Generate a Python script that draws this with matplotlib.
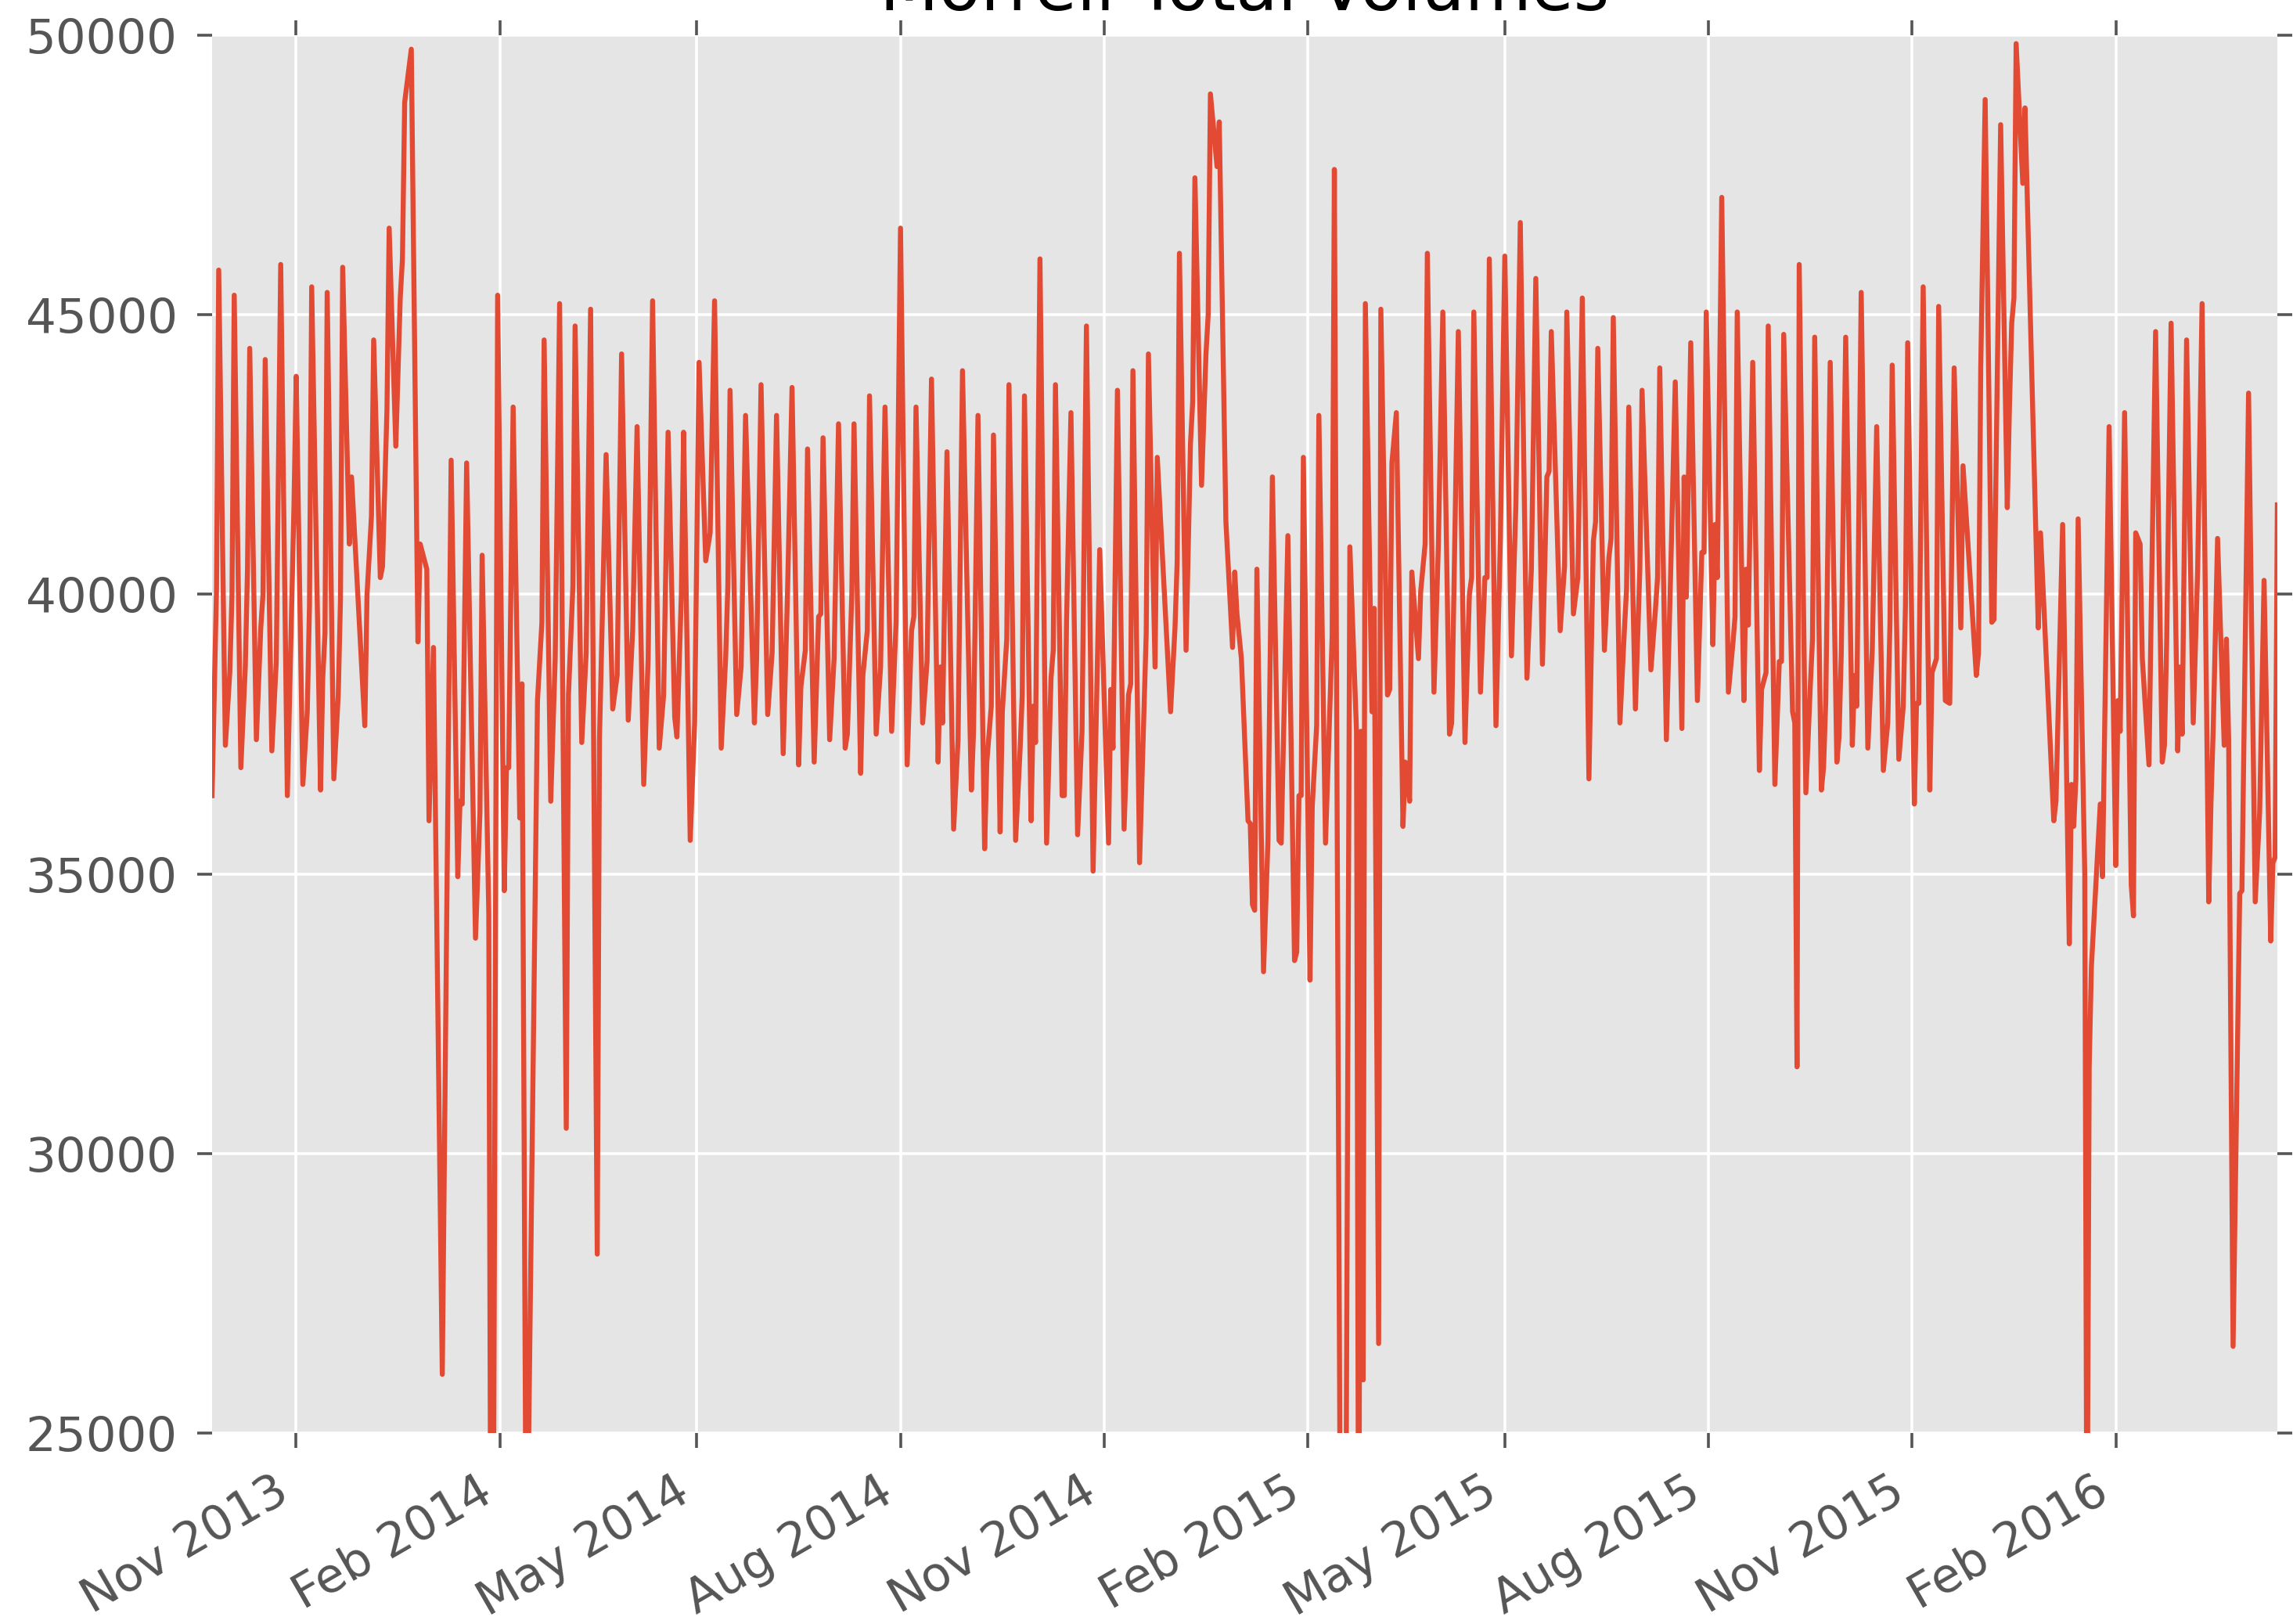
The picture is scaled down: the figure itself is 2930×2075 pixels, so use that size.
import matplotlib
matplotlib.use("Agg")
import matplotlib.pyplot as plt
import matplotlib.dates as mdates
import numpy as np
import pandas as pd

title = "Morrell Total Volumes"
y_ticks = [25000, 30000, 35000, 40000, 45000, 50000]

dates = [
    "2013-09-24", "2013-09-26", "2013-09-27", "2013-09-30", "2013-10-02", "2013-10-03", "2013-10-04",
    "2013-10-07", "2013-10-09", "2013-10-10", "2013-10-11", "2013-10-14", "2013-10-16", "2013-10-17",
    "2013-10-18", "2013-10-21", "2013-10-23", "2013-10-25", "2013-10-28", "2013-10-31", "2013-11-01",
    "2013-11-04", "2013-11-06", "2013-11-07", "2013-11-08", "2013-11-12", "2013-11-13", "2013-11-14",
    "2013-11-15", "2013-11-18", "2013-11-20", "2013-11-21", "2013-11-22", "2013-11-25", "2013-11-26",
    "2013-12-02", "2013-12-03", "2013-12-05", "2013-12-06", "2013-12-09", "2013-12-10", "2013-12-12",
    "2013-12-13", "2013-12-16", "2013-12-18", "2013-12-19", "2013-12-20", "2013-12-23", "2013-12-26",
    "2013-12-27", "2013-12-30", "2013-12-31", "2014-01-02", "2014-01-06", "2014-01-10", "2014-01-13",
    "2014-01-14", "2014-01-15", "2014-01-17", "2014-01-21", "2014-01-23", "2014-01-24", "2014-01-27",
    "2014-01-28", "2014-01-29", "2014-01-31", "2014-02-03", "2014-02-04", "2014-02-05", "2014-02-07",
    "2014-02-10", "2014-02-11", "2014-02-13", "2014-02-18", "2014-02-20", "2014-02-21", "2014-02-24",
    "2014-02-26", "2014-02-28", "2014-03-03", "2014-03-04", "2014-03-06", "2014-03-07", "2014-03-10",
    "2014-03-12", "2014-03-14", "2014-03-17", "2014-03-18", "2014-03-21", "2014-03-24", "2014-03-26",
    "2014-03-28", "2014-03-31", "2014-04-02", "2014-04-04", "2014-04-07", "2014-04-09", "2014-04-11",
    "2014-04-14", "2014-04-16", "2014-04-18", "2014-04-21", "2014-04-22", "2014-04-24", "2014-04-25",
    "2014-04-28", "2014-04-30", "2014-05-02", "2014-05-05", "2014-05-07", "2014-05-09", "2014-05-12",
    "2014-05-14", "2014-05-15", "2014-05-16", "2014-05-19", "2014-05-21", "2014-05-23", "2014-05-27",
    "2014-05-28", "2014-05-30", "2014-06-02", "2014-06-04", "2014-06-06", "2014-06-09", "2014-06-11",
    "2014-06-13", "2014-06-16", "2014-06-17", "2014-06-19", "2014-06-20", "2014-06-23", "2014-06-25",
    "2014-06-26", "2014-06-27", "2014-06-30", "2014-07-02", "2014-07-04", "2014-07-07", "2014-07-08",
    "2014-07-10", "2014-07-11", "2014-07-14", "2014-07-15", "2014-07-17", "2014-07-18", "2014-07-21",
    "2014-07-23", "2014-07-25", "2014-07-28", "2014-07-30", "2014-08-01", "2014-08-04", "2014-08-06",
    "2014-08-07", "2014-08-08", "2014-08-11", "2014-08-13", "2014-08-15", "2014-08-18", "2014-08-19",
    "2014-08-20", "2014-08-22", "2014-08-25", "2014-08-27", "2014-08-29", "2014-09-02", "2014-09-03",
    "2014-09-05", "2014-09-08", "2014-09-09", "2014-09-11", "2014-09-12", "2014-09-15", "2014-09-16",
    "2014-09-18", "2014-09-19", "2014-09-22", "2014-09-24", "2014-09-25", "2014-09-26", "2014-09-29",
    "2014-09-30", "2014-10-01", "2014-10-03", "2014-10-06", "2014-10-08", "2014-10-09", "2014-10-10",
    "2014-10-13", "2014-10-14", "2014-10-15", "2014-10-17", "2014-10-20", "2014-10-22", "2014-10-24",
    "2014-10-27", "2014-10-30", "2014-11-03", "2014-11-04", "2014-11-05", "2014-11-07", "2014-11-10",
    "2014-11-12", "2014-11-13", "2014-11-14", "2014-11-17", "2014-11-20", "2014-11-21", "2014-11-24",
    "2014-11-25", "2014-12-01", "2014-12-03", "2014-12-04", "2014-12-05", "2014-12-08", "2014-12-10",
    "2014-12-11", "2014-12-12", "2014-12-15", "2014-12-17", "2014-12-18", "2014-12-19", "2014-12-22",
    "2014-12-23", "2014-12-26", "2014-12-29", "2014-12-30", "2014-12-31", "2015-01-02", "2015-01-05",
    "2015-01-06", "2015-01-07", "2015-01-08", "2015-01-09", "2015-01-12", "2015-01-14", "2015-01-16",
    "2015-01-19", "2015-01-20", "2015-01-23", "2015-01-26", "2015-01-27", "2015-01-28", "2015-01-29",
    "2015-01-30", "2015-02-02", "2015-02-03", "2015-02-05", "2015-02-06", "2015-02-09", "2015-02-11",
    "2015-02-12", "2015-02-13", "2015-02-16", "2015-02-18", "2015-02-20", "2015-02-23", "2015-02-24",
    "2015-02-25", "2015-02-26", "2015-02-27", "2015-03-02", "2015-03-03", "2015-03-05", "2015-03-06",
    "2015-03-09", "2015-03-10", "2015-03-11", "2015-03-13", "2015-03-16", "2015-03-17", "2015-03-19",
    "2015-03-20", "2015-03-23", "2015-03-24", "2015-03-26", "2015-03-27", "2015-03-30", "2015-04-01",
    "2015-04-03", "2015-04-06", "2015-04-07", "2015-04-10", "2015-04-13", "2015-04-15", "2015-04-16",
    "2015-04-17", "2015-04-20", "2015-04-22", "2015-04-23", "2015-04-24", "2015-04-27", "2015-04-29",
    "2015-05-01", "2015-05-04", "2015-05-06", "2015-05-08", "2015-05-11", "2015-05-13", "2015-05-15",
    "2015-05-18", "2015-05-20", "2015-05-21", "2015-05-22", "2015-05-26", "2015-05-28", "2015-05-29",
    "2015-06-01", "2015-06-03", "2015-06-05", "2015-06-08", "2015-06-10", "2015-06-11", "2015-06-12",
    "2015-06-15", "2015-06-17", "2015-06-18", "2015-06-19", "2015-06-22", "2015-06-24", "2015-06-25",
    "2015-06-26", "2015-06-29", "2015-07-01", "2015-07-02", "2015-07-06", "2015-07-08", "2015-07-09",
    "2015-07-10", "2015-07-13", "2015-07-15", "2015-07-17", "2015-07-20", "2015-07-21", "2015-07-22",
    "2015-07-24", "2015-07-27", "2015-07-29", "2015-07-30", "2015-07-31", "2015-08-03", "2015-08-04",
    "2015-08-05", "2015-08-07", "2015-08-10", "2015-08-12", "2015-08-13", "2015-08-14", "2015-08-17",
    "2015-08-18", "2015-08-19", "2015-08-21", "2015-08-24", "2015-08-25", "2015-08-27", "2015-08-28",
    "2015-08-31", "2015-09-02", "2015-09-03", "2015-09-04", "2015-09-08", "2015-09-09", "2015-09-10",
    "2015-09-11", "2015-09-14", "2015-09-16", "2015-09-17", "2015-09-18", "2015-09-21", "2015-09-22",
    "2015-09-23", "2015-09-25", "2015-09-28", "2015-09-29", "2015-09-30", "2015-10-02", "2015-10-05",
    "2015-10-06", "2015-10-07", "2015-10-09", "2015-10-12", "2015-10-14", "2015-10-16", "2015-10-19",
    "2015-10-21", "2015-10-22", "2015-10-23", "2015-10-26", "2015-10-28", "2015-10-29", "2015-10-30",
    "2015-11-02", "2015-11-03", "2015-11-04", "2015-11-06", "2015-11-09", "2015-11-10", "2015-11-12",
    "2015-11-13", "2015-11-16", "2015-11-18", "2015-11-20", "2015-11-23", "2015-11-24", "2015-11-30",
    "2015-12-01", "2015-12-02", "2015-12-04", "2015-12-07", "2015-12-08", "2015-12-11", "2015-12-14",
    "2015-12-15", "2015-12-16", "2015-12-17", "2015-12-18", "2015-12-21", "2015-12-22", "2015-12-28",
    "2015-12-29", "2016-01-04", "2016-01-05", "2016-01-08", "2016-01-11", "2016-01-12", "2016-01-13",
    "2016-01-14", "2016-01-15", "2016-01-18", "2016-01-19", "2016-01-20", "2016-01-21", "2016-01-25",
    "2016-01-26", "2016-01-29", "2016-02-01", "2016-02-02", "2016-02-03", "2016-02-05", "2016-02-08",
    "2016-02-09", "2016-02-10", "2016-02-12", "2016-02-13", "2016-02-16", "2016-02-17", "2016-02-19",
    "2016-02-22", "2016-02-23", "2016-02-24", "2016-02-26", "2016-02-29", "2016-03-01", "2016-03-02",
    "2016-03-04", "2016-03-07", "2016-03-09", "2016-03-11", "2016-03-14", "2016-03-15", "2016-03-16",
    "2016-03-18", "2016-03-21", "2016-03-22", "2016-03-23", "2016-03-25", "2016-03-28", "2016-03-29",
    "2016-04-01", "2016-04-04", "2016-04-05", "2016-04-06", "2016-04-08", "2016-04-11", "2016-04-12",
    "2016-04-13", "2016-04-14",
]

volumes = [
    36400, 40100, 45800, 37300, 38600, 40000, 45350,
    36900, 38700, 40450, 44400, 37400, 39400, 40000,
    44200, 37200, 38800, 45900, 36400, 41600, 43900,
    36600, 37900, 39800, 45500, 36500, 38500, 39300,
    45400, 36700, 38200, 39900, 45850, 40900, 42100,
    37650, 40000, 41400, 44550, 40300, 40500, 43300,
    46550, 42650, 45300, 46000, 48800, 49750, 39150,
    40900, 40450, 35950, 39050, 26050, 42400, 34950,
    36300, 36250, 42350, 33850, 36100, 40700, 34300,
    21000, 22000, 45350, 34700, 36900, 36900, 43350,
    36000, 38400, 21500, 38100, 39500, 44550, 36300,
    38850, 45200, 30450, 38200, 40150, 44800, 37350,
    38950, 45100, 28200, 37400, 42500, 37950, 38550,
    44300, 37750, 39350, 43000, 36600, 38850, 45250,
    37250, 38200, 42900, 37800, 37450, 40000, 42900,
    35600, 37700, 44150, 40600, 41100, 45250, 37250,
    38850, 40150, 43650, 37850, 38700, 43200, 37700,
    38850, 43750, 37850, 38950, 43200, 37150, 40100,
    43700, 36950, 38350, 39000, 42600, 37000, 39600,
    39650, 42800, 37400, 38850, 43050, 37250, 37500,
    40000, 43050, 36800, 38550, 39350, 43550, 37500,
    38700, 43350, 37550, 39500, 46550, 36950, 39350,
    39600, 43350, 37700, 38800, 43850, 37000, 38700,
    37700, 42550, 35800, 37400, 44000, 36500, 37550,
    43200, 35450, 37000, 38000, 42850, 35750, 37900,
    39200, 43750, 35600, 37200, 38200, 43550, 35950,
    38000, 37350, 46000, 35550, 38500, 39000, 43750,
    36400, 36400, 39500, 43250, 35700, 37550, 44800,
    35050, 40800, 35550, 38300, 37250, 43650, 35800,
    38200, 38400, 44000, 35200, 39300, 44300, 38700,
    42450, 37900, 39400, 40600, 46100, 39000, 42700,
    43450, 47450, 41950, 44300, 45000, 48950, 47650,
    48450, 41300, 39050, 40400, 39650, 38850, 35950,
    35900, 34450, 34350, 40450, 33250, 35600, 42100,
    35600, 35550, 41050, 33450, 33600, 36400, 36400,
    42450, 33100, 36200, 37650, 43200, 35550, 38000,
    39250, 47600, 20000, 21000, 40850, 37550, 21000,
    37550, 25950, 45200, 37900, 39750, 26600, 45100,
    38200, 38300, 42350, 43250, 35850, 37000, 36300,
    40400, 38850, 40050, 40900, 46100, 38250, 40900,
    45050, 37500, 37700, 44700, 37350, 40000, 40300,
    45050, 38250, 40300, 40300, 46000, 37650, 41000,
    46050, 38900, 41600, 46650, 38500, 40450, 45650,
    38750, 42100, 42200, 44700, 39350, 40500, 45050,
    39650, 40300, 45300, 36700, 40950, 41300, 44400,
    39000, 40650, 41000, 44950, 37700, 39350, 40100,
    43350, 37950, 40450, 43650, 38650, 39700, 40300,
    44050, 37400, 40500, 43800, 37600, 42100, 39950,
    44500, 38100, 40750, 40750, 45050, 39100, 41250,
    40300, 47100, 38250, 39100, 39600, 45050, 38100,
    40450, 39450, 44150, 36850, 38300, 38600, 44800,
    36600, 38800, 38800, 44650, 37900, 37700, 31550,
    45900, 36450, 38350, 39200, 44600, 36500, 36900,
    38100, 44150, 37000, 37450, 38950, 44600, 37300,
    38550, 38000, 45400, 37250, 39000, 43000, 36850,
    37700, 39500, 44100, 37050, 38000, 39800, 44500,
    36250, 38050, 38050, 45500, 36500, 38600, 38850,
    45150, 38100, 38050, 44050, 39400, 42300, 38550,
    38950, 44050, 48850, 39500, 39550, 48400, 41550,
    43400, 44850, 45300, 49850, 47350, 48700, 39400,
    41100, 35950, 36300, 41250, 33750, 36600, 35850,
    36700, 41350, 35000, 22000, 31550, 33350, 36250,
    34950, 43000, 35150, 38100, 37550, 43250, 34800,
    34250, 41100, 40900, 38850, 36950, 39650, 44700,
    37000, 37300, 39150, 44850, 37200, 38700, 37500,
    44550, 37700, 40450, 45200, 34500, 36250, 37550,
    41000, 37300, 39200, 37400, 26550, 34650, 34700,
    43600, 34500, 35300, 36100, 40250, 33800, 35200,
    35300, 41600,
]

series = pd.Series(volumes, index=pd.to_datetime(dates))
x = series.index.values
y = series.values

W, H, DPI = 2930, 2075, 200
fig = plt.figure(figsize=(W / DPI, H / DPI), dpi=DPI)
left, right, top, bottom = 271 / W, 2910 / W, 45 / H, 1831 / H
ax = fig.add_axes([left, 1 - bottom, right - left, bottom - top])

ax.set_facecolor("#E5E5E5")
ax.plot(x, y, color="#E24A33", linewidth=2.3)
ax.set_xlim(x[0], x[-1])
ax.set_ylim(25000, 50000)
ax.set_yticks(y_ticks)
ax.xaxis.set_major_locator(mdates.MonthLocator(bymonth=[2, 5, 8, 11]))
ax.xaxis.set_major_formatter(mdates.DateFormatter("%b %Y"))

ax.grid(True, color="white", linewidth=1.3)
ax.set_axisbelow(True)
for sp in ax.spines.values():
    sp.set_visible(False)
ax.tick_params(direction="out", length=7, width=1.3, color="#555555",
               labelcolor="#555555", labelsize=22, top=True, right=True, pad=9)
ax.tick_params(axis="x", pad=9)
for lbl in ax.get_xticklabels():
    lbl.set_rotation(30)
    lbl.set_ha("right")

ax.set_title(title, fontsize=31.5, y=1.0179, pad=0)

fig.savefig("out.png", dpi=DPI)
